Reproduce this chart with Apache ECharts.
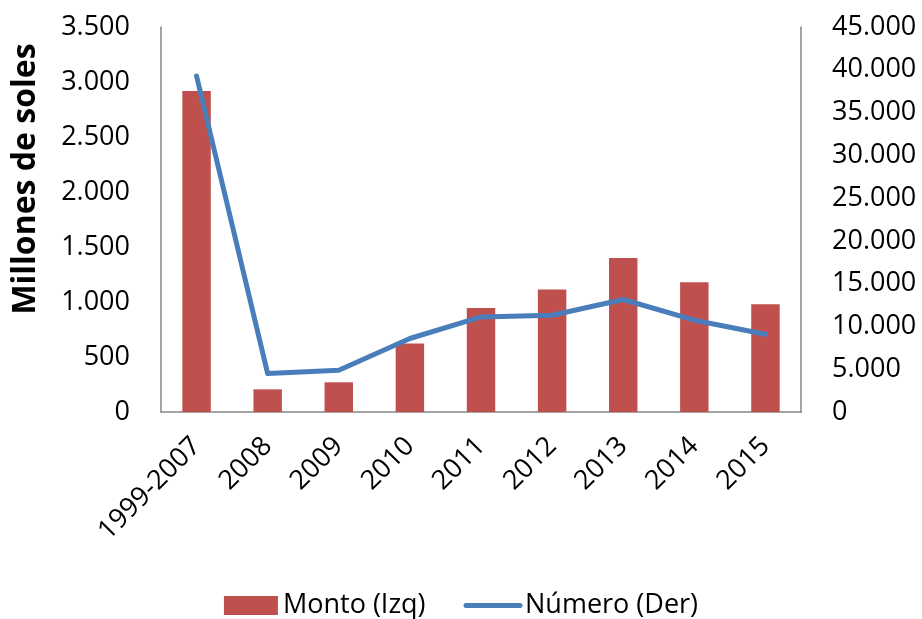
<!DOCTYPE html>
<html>
<head>
<meta charset="utf-8">
<script src="https://cdn.jsdelivr.net/npm/echarts@6/dist/echarts.min.js"></script>
<style>
  html, body { margin: 0; padding: 0; background: #fff; }
  #chart { width: 922px; height: 619px; }
</style>
</head>
<body>
<div id="chart"></div>
<script>
// datos
const categorias = ['1999-2007', '2008', '2009', '2010', '2011', '2012', '2013', '2014', '2015']
const monto = [2918, 206, 270, 622, 946, 1114, 1401, 1180, 980]
const numero = [39270, 4490, 4880, 8590, 11110, 11310, 13150, 10730, 9090]

const fuente = 'Open Sans'
const fmt = v => String(v).replace(/\B(?=(\d{3})+(?!\d))/g, '.')

const chart = echarts.init(document.getElementById('chart'))
chart.setOption({
  animation: false,
  textStyle: { fontFamily: fuente },
  grid: { left: 161, right: 121, top: 27, bottom: 207 },
  legend: {
    top: 587,
    left: 'center',
    itemGap: 38,
    itemWidth: 54,
    itemHeight: 19,
    textStyle: { fontSize: 27, color: '#000', fontFamily: fuente },
    lineStyle: { width: 5, color: '#4a7ebb' },
    data: [
      { name: 'Monto (Izq)', icon: 'rect' },
      { name: 'Número (Der)', itemStyle: { opacity: 0 } }
    ]
  },
  graphic: [{
    type: 'text',
    x: 26,
    y: 179,
    rotation: Math.PI / 2,
    style: {
      text: 'Millones de soles',
      font: 'bold 32px ' + fuente,
      fill: '#000',
      textAlign: 'center',
      textVerticalAlign: 'middle'
    }
  }],
  xAxis: {
    type: 'category',
    data: categorias,
    axisLine: { lineStyle: { color: '#868686', width: 1.5 } },
    axisTick: { show: false },
    axisLabel: { rotate: 45, fontSize: 27, color: '#000', margin: 30, interval: 0 }
  },
  yAxis: [
    {
      type: 'value',
      min: 0, max: 3500, interval: 500,
      axisLine: { show: true, lineStyle: { color: '#868686', width: 1.5 } },
      axisTick: { show: false },
      splitLine: { show: false },
      axisLabel: { fontSize: 27, color: '#000', margin: 31, formatter: fmt }
    },
    {
      type: 'value',
      min: 0, max: 45000, interval: 5000,
      axisLine: { show: true, lineStyle: { color: '#868686', width: 1.5 } },
      axisTick: { show: false },
      splitLine: { show: false },
      axisLabel: { fontSize: 27, color: '#000', margin: 31, formatter: fmt }
    }
  ],
  series: [
    {
      name: 'Monto (Izq)',
      type: 'bar',
      data: monto,
      barWidth: '40%',
      itemStyle: { color: '#c0504d' }
    },
    {
      name: 'Número (Der)',
      type: 'line',
      yAxisIndex: 1,
      data: numero,
      symbol: 'none',
      lineStyle: { color: '#4a7ebb', width: 5, cap: 'round', join: 'round' },
      itemStyle: { color: '#4a7ebb' }
    }
  ]
})
</script>
</body>
</html>
